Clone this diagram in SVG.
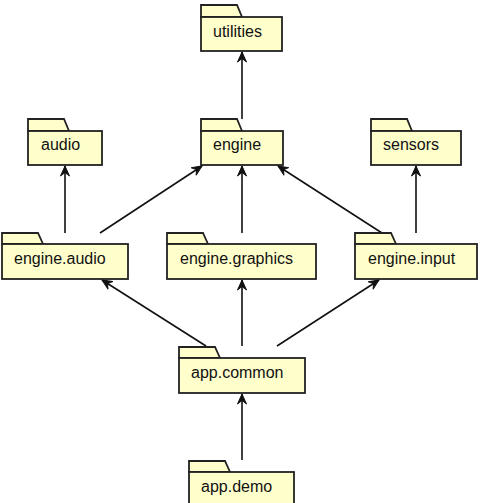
<svg xmlns="http://www.w3.org/2000/svg" width="481" height="503" viewBox="0 0 481 503">
<style>
.pk{fill:#ffffcc;stroke:#222;stroke-width:1.8;stroke-linejoin:miter}
.lb{font-family:"Liberation Sans",Arial,sans-serif;font-size:16px;fill:#111}
.cn{stroke:#111;stroke-width:1.6;fill:none;marker-end:url(#arr)}
</style>
<defs>
<marker id="arr" markerUnits="userSpaceOnUse" markerWidth="14" markerHeight="14" viewBox="-12 -7 14 14" refX="0" refY="0" orient="auto">
<path d="M-10,-4.5 L0,0 L-10,4.5 L-6.5,0 Z" fill="#111" stroke="#111" stroke-width="1" stroke-linejoin="miter"/>
</marker>
</defs>
<rect width="481" height="503" fill="#fff"/>
<g id="connectors">
<line class="cn" x1="242" y1="119" x2="242" y2="52"/>
<line class="cn" x1="65" y1="233" x2="65" y2="166"/>
<line class="cn" x1="100" y1="233" x2="202" y2="166"/>
<line class="cn" x1="242" y1="233" x2="242" y2="166"/>
<line class="cn" x1="382" y1="233" x2="278" y2="166"/>
<line class="cn" x1="416" y1="233" x2="416" y2="166"/>
<line class="cn" x1="206" y1="346" x2="102" y2="280"/>
<line class="cn" x1="242" y1="346" x2="242" y2="280"/>
<line class="cn" x1="277" y1="346" x2="379" y2="280"/>
<line class="cn" x1="242" y1="460" x2="242" y2="394"/>
</g>
<g id="utilities">
<path class="pk" d="M201,17 L201,5 L237,5 L242,17 Z"/>
<rect class="pk" x="201" y="17" width="81" height="34"/>
<text class="lb" x="213" y="37">utilities</text>
</g>
<g id="audio">
<path class="pk" d="M28,131 L28,119 L64,119 L69,131 Z"/>
<rect class="pk" x="28" y="131" width="74" height="34"/>
<text class="lb" x="41" y="150">audio</text>
</g>
<g id="engine">
<path class="pk" d="M201,131 L201,119 L237,119 L242,131 Z"/>
<rect class="pk" x="201" y="131" width="82" height="34"/>
<text class="lb" x="213" y="150">engine</text>
</g>
<g id="sensors">
<path class="pk" d="M371,131 L371,119 L407,119 L412,131 Z"/>
<rect class="pk" x="371" y="131" width="90" height="34"/>
<text class="lb" x="383" y="150">sensors</text>
</g>
<g id="engine.audio">
<path class="pk" d="M2,244 L2,233 L38,233 L43,244 Z"/>
<rect class="pk" x="2" y="244" width="126" height="35"/>
<text class="lb" x="14" y="264">engine.audio</text>
</g>
<g id="engine.graphics">
<path class="pk" d="M167,244 L167,233 L203,233 L208,244 Z"/>
<rect class="pk" x="167" y="244" width="149" height="35"/>
<text class="lb" x="180" y="264">engine.graphics</text>
</g>
<g id="engine.input">
<path class="pk" d="M355,244 L355,233 L391,233 L396,244 Z"/>
<rect class="pk" x="355" y="244" width="122" height="35"/>
<text class="lb" x="368" y="264">engine.input</text>
</g>
<g id="app.common">
<path class="pk" d="M179,358 L179,347 L215,347 L220,358 Z"/>
<rect class="pk" x="179" y="358" width="126" height="35"/>
<text class="lb" x="191" y="378">app.common</text>
</g>
<g id="app.demo">
<path class="pk" d="M189,472 L189,461 L225,461 L230,472 Z"/>
<rect class="pk" x="189" y="472" width="105" height="35"/>
<text class="lb" x="201" y="492">app.demo</text>
</g>
</svg>
